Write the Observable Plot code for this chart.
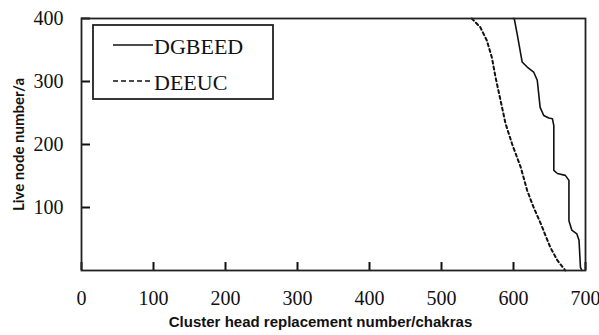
<!DOCTYPE html>
<html>
<head>
<meta charset="utf-8">
<script src="https://cdn.jsdelivr.net/npm/d3@7"></script>
<script src="https://cdn.jsdelivr.net/npm/@observablehq/plot@0.6"></script>
<style>
  html, body { margin: 0; padding: 0; background: #fff; }
  #chart { position: relative; width: 599px; height: 335px; }
  #legend { position: absolute; left: 92px; top: 24px; }
</style>
</head>
<body>
<div id="chart"></div>
<script>
const seriesNames = ["DGBEED", "DEEUC"];
const dgbeedX = [599, 601, 605, 612, 619, 628, 633, 637, 642, 649, 654, 656, 656, 661, 672, 677, 677, 681, 688, 691, 693, 695];
const dgbeedY = [400, 400, 376, 331, 323, 315, 302, 259, 246, 242, 241, 230, 159, 154, 151, 143, 79, 64, 58, 48, 5, 0];
const deeucX = [542, 554, 563, 570, 575, 582, 589, 598, 610, 619, 628, 638, 651, 661, 672];
const deeucY = [400, 386, 365, 338, 307, 270, 233, 201, 164, 127, 100, 74, 37, 16, 0];
const xTicks = [0, 100, 200, 300, 400, 500, 600, 700];
const yTicks = [100, 200, 300, 400];
const xTitle = "Cluster head replacement number/chakras";
const yTitle = "Live node number/a";

const dgbeed = dgbeedX.map((x, i) => ({x, y: dgbeedY[i]}));
const deeuc = deeucX.map((x, i) => ({x, y: deeucY[i]}));

const serif = "'Liberation Serif', 'Times New Roman', serif";
const W = 599, H = 335, ML = 81, MR = 14, MT = 18, MB = 65;
const innerW = W - ML - MR, innerH = H - MT - MB;

const chart = Plot.plot({
  width: W,
  height: H,
  marginLeft: ML,
  marginRight: MR,
  marginTop: MT,
  marginBottom: MB,
  style: {background: "#fff", color: "#111"},
  x: {domain: [0, 700], label: null, axis: null},
  y: {domain: [0, 400], label: null, axis: null},
  marks: [
    Plot.line(dgbeed, {x: "x", y: "y", stroke: "#111", strokeWidth: 1.6}),
    Plot.line(deeuc, {x: "x", y: "y", stroke: "#111", strokeWidth: 2, strokeDasharray: "3,3"}),
    // inward tick marks
    Plot.tickX(xTicks, {x: d => d, insetTop: innerH - 8, stroke: "#111", strokeWidth: 2}),
    Plot.tickY(yTicks, {y: d => d, insetRight: innerW - 9, stroke: "#111", strokeWidth: 2}),
    Plot.axisX(xTicks, {tickSize: 0, tickPadding: 20, fontSize: 20, fontFamily: serif, label: null}),
    Plot.axisY(yTicks, {tickSize: 0, tickPadding: 18, fontSize: 20, fontFamily: serif, label: null}),
    Plot.frame({stroke: "#222", strokeWidth: 1.8}),
    Plot.text([xTitle], {text: d => d, frameAnchor: "bottom", textAnchor: "middle", dy: 56, dx: -13, fontSize: 15, fontWeight: "bold", fontFamily: "'Liberation Sans', Arial, sans-serif", fill: "#111"}),
    Plot.text([yTitle], {text: d => d, frameAnchor: "left", textAnchor: "middle", lineAnchor: "middle", rotate: -90, dx: -62, fontSize: 15, fontWeight: "bold", fontFamily: "Lato, 'Open Sans', sans-serif", fill: "#111"})
  ]
});
document.getElementById("chart").appendChild(chart);

// legend box inside the plot area
const legend = d3.select("#chart").append("svg")
  .attr("id", "legend").attr("width", 182).attr("height", 76);
legend.append("rect").attr("x", 1).attr("y", 1).attr("width", 180).attr("height", 74)
  .attr("fill", "#fff").attr("stroke", "#222").attr("stroke-width", 1.8);
const dashes = [null, "5,3"];
seriesNames.forEach((name, i) => {
  const cy = 21 + i * 36;
  legend.append("line").attr("x1", 21).attr("x2", 61).attr("y1", cy).attr("y2", cy)
    .attr("stroke", "#111").attr("stroke-width", 1.6)
    .attr("stroke-dasharray", dashes[i]);
  legend.append("text").attr("x", 62).attr("y", cy + 9).text(name)
    .attr("font-family", serif).attr("font-size", 22).attr("fill", "#111");
});
</script>
</body>
</html>
